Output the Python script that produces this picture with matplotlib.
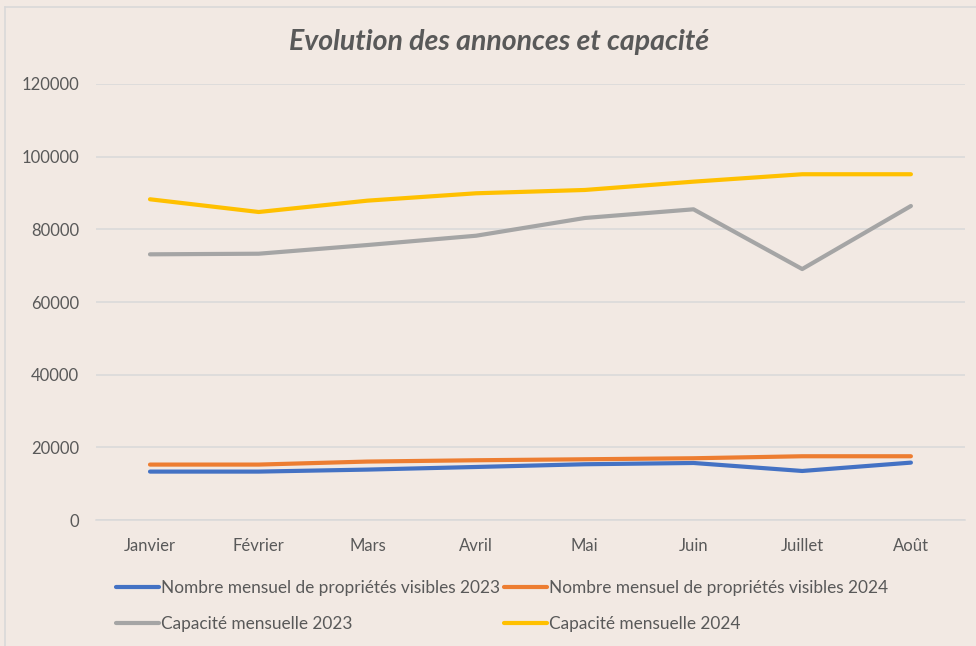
# Evolution des annonces et capacité - line chart
import matplotlib.pyplot as plt
from matplotlib.lines import Line2D

# data
mois = ['Janvier', 'Février', 'Mars', 'Avril', 'Mai', 'Juin', 'Juillet', 'Août']
visibles_2023 = [13330, 13330, 13880, 14600, 15350, 15700, 13500, 15800]
visibles_2024 = [15260, 15260, 16090, 16450, 16720, 17000, 17550, 17550]
capacite_2023 = [73120, 73290, 75680, 78240, 83120, 85510, 69070, 86420]
capacite_2024 = [88270, 84770, 87890, 89920, 90830, 93120, 95160, 95160]
yticks = [0, 20000, 40000, 60000, 80000, 100000, 120000]

series = [
    ('Nombre mensuel de propriétés visibles 2023', visibles_2023, '#4472C4'),
    ('Nombre mensuel de propriétés visibles 2024', visibles_2024, '#ED7D31'),
    ('Capacité mensuelle 2023', capacite_2023, '#A5A5A5'),
    ('Capacité mensuelle 2024', capacite_2024, '#FFC000'),
]

bg = '#F2E9E3'
txt = '#595959'
font = ['Lato', 'DejaVu Sans']

fig = plt.figure(figsize=(9.76, 6.46), dpi=100, facecolor=bg)
ax = fig.add_axes([0.098, 0.195, 0.891, 0.675], facecolor=bg)

x = list(range(len(mois)))
handles = []
for name, vals, col in series:
    h, = ax.plot(x, vals, color=col, lw=3, solid_capstyle='round',
                 solid_joinstyle='round', label=name)
    handles.append(h)

ax.set_xlim(-0.5, len(mois) - 0.5)
ax.set_ylim(0, 120000)
ax.set_yticks(yticks)
ax.set_yticklabels([str(v) for v in yticks], fontfamily=font, fontsize=12, color=txt)
ax.set_xticks(x)
ax.set_xticklabels(mois, fontfamily=font, fontsize=12, color=txt)
ax.tick_params(axis='both', length=0)
ax.tick_params(axis='y', pad=12)
ax.tick_params(axis='x', pad=13)
ax.grid(axis='y', color='#D9D9D9', lw=1.1)
ax.set_axisbelow(True)
for s in ['top', 'right', 'left']:
    ax.spines[s].set_visible(False)
ax.spines['bottom'].set_color('#D9D9D9')
ax.spines['bottom'].set_linewidth(1.1)

fig.text(0.511, 0.935, 'Evolution des annonces et capacité', ha='center', va='center',
         fontfamily=font, fontsize=20.5, fontweight='bold', fontstyle='italic', color=txt)

# legend, filled row by row
order = [0, 2, 1, 3]
leg = fig.legend([handles[i] for i in order], [series[i][0] for i in order],
                 loc='upper left', bbox_to_anchor=(0.112, 0.113), ncol=2,
                 frameon=False, handlelength=2.5, handletextpad=0.12,
                 columnspacing=0.2, labelspacing=1.15, borderaxespad=0,
                 prop={'family': font, 'size': 12.4})
for t in leg.get_texts():
    t.set_color(txt)

# chart area border
fig.add_artist(Line2D([5 / 976, 5 / 976], [0, 1 - 7 / 646], transform=fig.transFigure,
                      color='#D9D9D9', lw=1.2))
fig.add_artist(Line2D([5 / 976, 1], [1 - 7 / 646, 1 - 7 / 646], transform=fig.transFigure,
                      color='#D9D9D9', lw=1.2))

fig.savefig('out.png', dpi=100, facecolor=bg)
